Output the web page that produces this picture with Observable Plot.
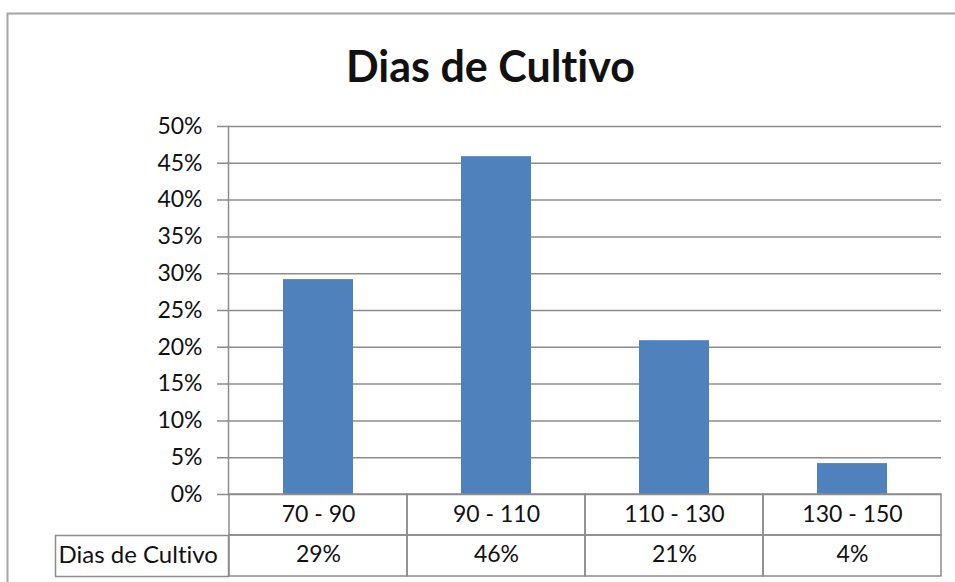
<!DOCTYPE html>
<html><head><meta charset="utf-8">
<script src="https://cdn.jsdelivr.net/npm/d3@7"></script>
<script src="https://cdn.jsdelivr.net/npm/@observablehq/plot@0.6"></script>
<style>body{margin:0;background:#fff;} svg text{font-variant-ligatures:none;font-feature-settings:"liga" 0, "clig" 0;}</style>
</head><body><div id="chart"></div>
<script>
const chartTitle = "Dias de Cultivo";
const seriesName = "Dias de Cultivo";
const categories = ["70 - 90", "90 - 110", "110 - 130", "130 - 150"];
const values = [0.292, 0.459, 0.209, 0.042];
const tableLabels = ["29%", "46%", "21%", "4%"];
const yTicks = [0, 0.05, 0.10, 0.15, 0.20, 0.25, 0.30, 0.35, 0.40, 0.45, 0.50];

const data = categories.map((c, i) => ({category: c, value: values[i], label: tableLabels[i]}));

const W = 955, H = 582, mL = 228, mR = 14, mT = 126, mB = 88;
const plotW = W - mL - mR, plotH = H - mT - mB;
const row1 = 41, row2 = 41;
const font = "Lato, 'Open Sans', sans-serif";
const fs = 23;
const lineColor = "#8c8c8c";

const chart = Plot.plot({
  width: W, height: H,
  marginLeft: mL, marginRight: mR, marginTop: mT, marginBottom: mB,
  style: {fontFamily: font, background: "#fff", color: "#111", overflow: "visible"},
  x: {domain: categories, padding: 0, axis: null},
  y: {domain: [0, 0.5], axis: null},
  marks: [
    // outer chart border
    Plot.frame({stroke: "#a3a3a3", strokeWidth: 2, insetLeft: -(mL - 7), insetTop: -(mT - 13), insetRight: -(mR + 20), insetBottom: -(mB + 20)}),
    Plot.gridY(yTicks, {stroke: lineColor, strokeOpacity: 1, strokeWidth: 1.5, insetLeft: -11}),
    Plot.axisY(yTicks, {tickSize: 0, tickPadding: 26, fontSize: fs, label: null, tickFormat: d => Math.round(d * 100) + "%"}),
    Plot.frame({anchor: "left", stroke: lineColor, strokeWidth: 1.5}),
    Plot.barY(data, {x: "category", y: "value", fill: "#4f81bd", insetLeft: 54, insetRight: 54}),
    // data table
    Plot.cell(data, {x: "category", fill: "none", stroke: lineColor, strokeWidth: 1.5, insetTop: plotH, insetBottom: -row1}),
    Plot.cell(data, {x: "category", fill: "none", stroke: lineColor, strokeWidth: 1.5, insetTop: plotH + row1, insetBottom: -(row1 + row2)}),
    Plot.frame({stroke: lineColor, strokeWidth: 1.5, insetLeft: -173, insetRight: plotW, insetTop: plotH + row1, insetBottom: -(row1 + row2)}),
    Plot.text(data, {x: "category", text: "category", frameAnchor: "bottom", lineAnchor: "middle", dy: row1 / 2, fontSize: fs, fill: "#111"}),
    Plot.text(data, {x: "category", text: "label", frameAnchor: "bottom", lineAnchor: "middle", dy: row1 + row2 / 2 - 1, fontSize: fs, fill: "#111"}),
    Plot.text([seriesName], {frameAnchor: "bottom-left", lineAnchor: "middle", dx: -170, dy: row1 + row2 / 2 - 1, textAnchor: "start", fontSize: 24, fill: "#111"}),
    // title
    Plot.text([chartTitle], {frameAnchor: "top", lineAnchor: "middle", dx: -94.5, dy: -58, fontSize: 43, fontWeight: "bold", fill: "#111"})
  ]
});
document.getElementById("chart").append(chart);
</script>
</body></html>
